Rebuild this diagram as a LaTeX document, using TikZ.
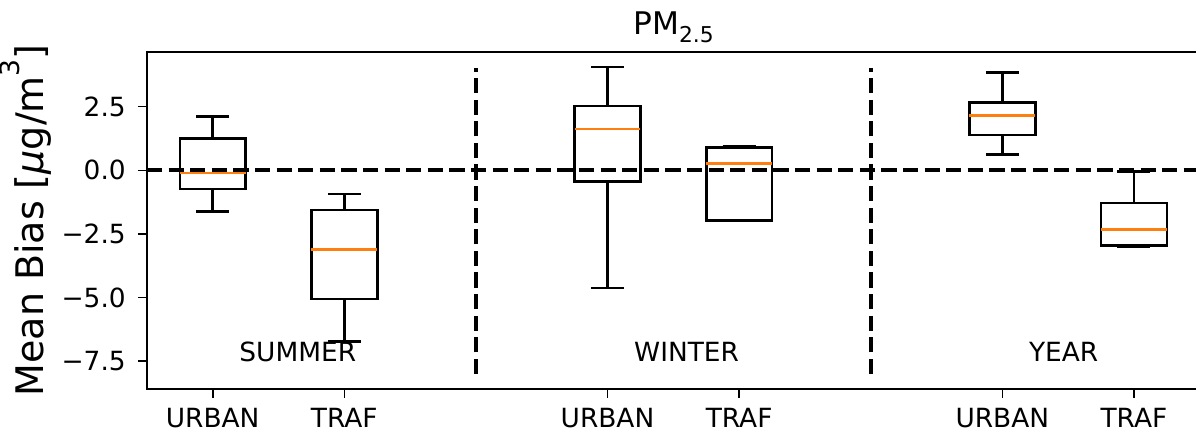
\documentclass[tikz,border=0pt]{standalone}
\usepackage{fontspec}
\setmainfont{DejaVu Sans}
\definecolor{mplorange}{HTML}{FF7F0E}
\begin{document}
\begin{tikzpicture}[x=1pt,y=1pt,
  boxline/.style={line width=1.3pt,black},
  medline/.style={line width=1.3pt,mplorange},
  refline/.style={line width=1.85pt,black,dash pattern=on 7.6pt off 3.2pt},
  frameline/.style={line width=0.8pt,black},
  ticklbl/.style={font=\fontsize{13.2}{15}\selectfont,inner sep=0pt},
  catlbl/.style={font=\fontsize{13.2}{15}\selectfont,inner sep=0pt,anchor=base west}]
\useasboundingbox (0,0) rectangle (598,217.5);
\clip (0,0) rectangle (598,217.5);
\begin{scope}[shift={(40.55pt,132.35pt)},x=65.8pt,y=12.725pt]
  % reference lines
  \draw[refline] (0.5,0) -- (8.5,0);
  \draw[refline] (3,-8) -- (3,4);
  \draw[refline] (6,-8) -- (6,4);
  % box plot macro
  \newcommand\bxp[6]{%
    \draw[boxline] ({#1-0.25},#3) rectangle ({#1+0.25},#5);
    \draw[boxline] (#1,#3) -- (#1,#2);
    \draw[boxline] (#1,#5) -- (#1,#6);
    \draw[boxline] ({#1-0.125},#2) -- ({#1+0.125},#2);
    \draw[boxline] ({#1-0.125},#6) -- ({#1+0.125},#6);
    \draw[medline] ({#1-0.25},#4) -- ({#1+0.25},#4);}
  \bxp{1}{-1.63}{-0.73}{-0.10}{1.26}{2.12}
  \bxp{2}{-6.73}{-5.06}{-3.12}{-1.56}{-0.93}
  \bxp{4}{-4.62}{-0.45}{1.62}{2.53}{4.06}
  \bxp{5}{-1.98}{-1.98}{0.26}{0.89}{0.95}
  \bxp{7}{0.61}{1.39}{2.16}{2.66}{3.84}
  \bxp{8}{-3.01}{-2.95}{-2.32}{-1.28}{-0.05}
  % axes frame
  \draw[frameline] (0.5,-8.59) rectangle (8.5,4.66);
  % y ticks
  \foreach \v/\t [count=\i] in {2.5/2.5,0/0.0,-2.5/−2.5,-5/−5.0,-7.5/−7.5}{
    \draw[frameline] (0.5,\v) -- ++(-4.6pt,0);
    \node[ticklbl,anchor=east] (yt\i) at ([xshift=-10.4pt]0.5,\v) {\t};
  }
  % x ticks
  \foreach \p/\t [count=\i] in {1/URBAN,2/TRAF,4/URBAN,5/TRAF,7/URBAN,8/TRAF}{
    \draw[frameline] (\p,-8.59) -- ++(0,-4.6pt);
  }
  % category labels
  \node[catlbl] (summer) at (1.2,-7.5) {SUMMER};
  \node[catlbl] (winter) at (4.2,-7.5) {WINTER};
  \node[catlbl] (year) at (7.2,-7.5) {YEAR};
\end{scope}
% x tick labels (baseline)
\foreach \p/\t [count=\i] in {1/URBAN,2/TRAF,4/URBAN,5/TRAF,7/URBAN,8/TRAF}{
  \node[ticklbl,anchor=base] (xt\i) at ({40.55+65.8*\p},3.65) {\t};
}
% title
\node[inner sep=0pt,anchor=base,font=\fontsize{15.6}{18}\selectfont] (title) at (336.8,200.35)
  {PM\raisebox{-0.26em}{\fontsize{10.9}{12}\selectfont 2.5}};
% y label
\node[inner sep=0pt,anchor=base,rotate=90,font=\fontsize{19}{22}\selectfont] (ylabel) at (21.65,107.3)
  {Mean Bias [\textit{μ}g/m\raisebox{0.62em}{\fontsize{13.3}{15}\selectfont 3}]};
\end{tikzpicture}
\end{document}
